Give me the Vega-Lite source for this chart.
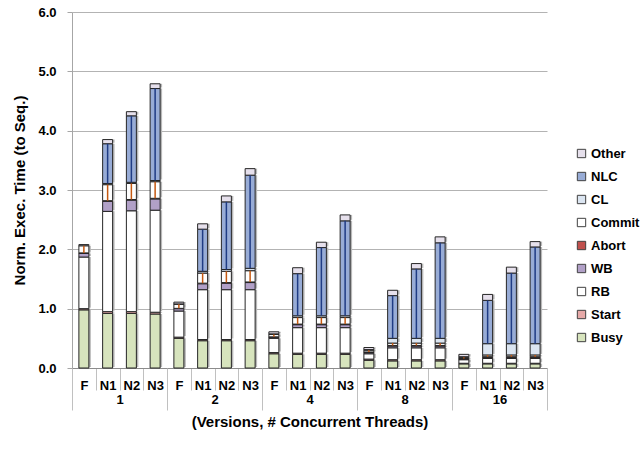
{
  "$schema": "https://vega.github.io/schema/vega-lite/v6.json",
  "width": 475,
  "height": 356,
  "padding": {"left": 12, "top": 6, "right": 0, "bottom": 0},
  "config": {"font": "Liberation Sans", "view": {"stroke": null}},
  "data": {"values": [
    {"threads": "1", "bar": "1 F", "Busy": 0.98, "Start": 0.02, "RB": 0.87, "WB": 0.06, "Abort": 0.01, "Commit": 0.12, "CL": 0, "NLC": 0, "Other": 0.02},
    {"threads": "1", "bar": "1 N1", "Busy": 0.92, "Start": 0.03, "RB": 1.69, "WB": 0.17, "Abort": 0.01, "Commit": 0.27, "CL": 0.02, "NLC": 0.67, "Other": 0.07},
    {"threads": "1", "bar": "1 N2", "Busy": 0.92, "Start": 0.03, "RB": 1.70, "WB": 0.18, "Abort": 0.01, "Commit": 0.27, "CL": 0.02, "NLC": 1.12, "Other": 0.07},
    {"threads": "1", "bar": "1 N3", "Busy": 0.91, "Start": 0.03, "RB": 1.72, "WB": 0.19, "Abort": 0.01, "Commit": 0.28, "CL": 0.02, "NLC": 1.55, "Other": 0.08},
    {"threads": "2", "bar": "2 F", "Busy": 0.50, "Start": 0.02, "RB": 0.44, "WB": 0.04, "Abort": 0.005, "Commit": 0.07, "CL": 0.005, "NLC": 0, "Other": 0.03},
    {"threads": "2", "bar": "2 N1", "Busy": 0.46, "Start": 0.02, "RB": 0.84, "WB": 0.10, "Abort": 0.01, "Commit": 0.17, "CL": 0.03, "NLC": 0.71, "Other": 0.09},
    {"threads": "2", "bar": "2 N2", "Busy": 0.46, "Start": 0.02, "RB": 0.84, "WB": 0.11, "Abort": 0.01, "Commit": 0.19, "CL": 0.03, "NLC": 1.14, "Other": 0.10},
    {"threads": "2", "bar": "2 N3", "Busy": 0.46, "Start": 0.02, "RB": 0.84, "WB": 0.12, "Abort": 0.01, "Commit": 0.19, "CL": 0.04, "NLC": 1.57, "Other": 0.11},
    {"threads": "4", "bar": "4 F", "Busy": 0.24, "Start": 0.02, "RB": 0.24, "WB": 0.02, "Abort": 0.005, "Commit": 0.04, "CL": 0.01, "NLC": 0, "Other": 0.035},
    {"threads": "4", "bar": "4 N1", "Busy": 0.23, "Start": 0.02, "RB": 0.43, "WB": 0.05, "Abort": 0.01, "Commit": 0.11, "CL": 0.03, "NLC": 0.71, "Other": 0.10},
    {"threads": "4", "bar": "4 N2", "Busy": 0.23, "Start": 0.02, "RB": 0.43, "WB": 0.05, "Abort": 0.01, "Commit": 0.11, "CL": 0.03, "NLC": 1.15, "Other": 0.09},
    {"threads": "4", "bar": "4 N3", "Busy": 0.23, "Start": 0.02, "RB": 0.43, "WB": 0.05, "Abort": 0.01, "Commit": 0.11, "CL": 0.03, "NLC": 1.60, "Other": 0.10},
    {"threads": "8", "bar": "8 F", "Busy": 0.13, "Start": 0.02, "RB": 0.09, "WB": 0.02, "Abort": 0.01, "Commit": 0.03, "CL": 0.01, "NLC": 0, "Other": 0.035},
    {"threads": "8", "bar": "8 N1", "Busy": 0.12, "Start": 0.02, "RB": 0.20, "WB": 0.03, "Abort": 0.01, "Commit": 0.04, "CL": 0.08, "NLC": 0.72, "Other": 0.09},
    {"threads": "8", "bar": "8 N2", "Busy": 0.12, "Start": 0.02, "RB": 0.20, "WB": 0.03, "Abort": 0.01, "Commit": 0.04, "CL": 0.08, "NLC": 1.17, "Other": 0.09},
    {"threads": "8", "bar": "8 N3", "Busy": 0.12, "Start": 0.02, "RB": 0.20, "WB": 0.03, "Abort": 0.01, "Commit": 0.04, "CL": 0.08, "NLC": 1.61, "Other": 0.10},
    {"threads": "16", "bar": "16 F", "Busy": 0.07, "Start": 0.01, "RB": 0.06, "WB": 0.01, "Abort": 0.01, "Commit": 0.02, "CL": 0.01, "NLC": 0, "Other": 0.04},
    {"threads": "16", "bar": "16 N1", "Busy": 0.07, "Start": 0.01, "RB": 0.08, "WB": 0.02, "Abort": 0.01, "Commit": 0.03, "CL": 0.19, "NLC": 0.73, "Other": 0.10},
    {"threads": "16", "bar": "16 N2", "Busy": 0.07, "Start": 0.01, "RB": 0.08, "WB": 0.02, "Abort": 0.01, "Commit": 0.03, "CL": 0.19, "NLC": 1.19, "Other": 0.10},
    {"threads": "16", "bar": "16 N3", "Busy": 0.07, "Start": 0.01, "RB": 0.08, "WB": 0.02, "Abort": 0.01, "Commit": 0.03, "CL": 0.19, "NLC": 1.63, "Other": 0.09}
  ]},
  "transform": [
    {"fold": ["Busy", "Start", "RB", "WB", "Abort", "Commit", "CL", "NLC", "Other"], "as": ["component", "value"]},
    {"stack": "value", "groupby": ["bar"], "as": ["v0", "v1"]}
  ],
  "layer": [
    {
      "layer": [
        {
          "mark": {"type": "bar", "color": "#b8b8b8", "strokeWidth": 0, "xOffset": 2, "yOffset": -1, "width": {"band": 0.42}},
          "transform": [{"filter": "datum.value > 0"}],
          "encoding": {
            "x": {
              "field": "bar", "type": "nominal", "sort": null,
              "scale": {"paddingInner": 0, "paddingOuter": 0},
              "axis": {
                "orient": "bottom", "title": null,
                "labelExpr": "split(datum.label, ' ')[1]",
                "labelAngle": 0, "labelFontSize": 13, "labelFontWeight": "bold", "labelColor": "#000000",
                "labelBaseline": "top",
                "tickBand": "extent", "tickSize": 22, "tickColor": "#c0c0c0", "labelPadding": -11,
                "domainColor": "#8c8c8c", "grid": false
              }
            },
            "y": {
              "field": "v0", "type": "quantitative",
              "scale": {"domain": [0, 6], "nice": false},
              "axis": {
                "title": "Norm. Exec. Time (to Seq.)", "titleFontSize": 15, "titleFontWeight": "bold", "titleColor": "#000000",
                "titlePadding": 10,
                "values": [0, 1, 2, 3, 4, 5, 6], "format": ".1f",
                "labelFontSize": 13, "labelFontWeight": "bold", "labelColor": "#000000", "labelPadding": 11,
                "tickSize": 5, "tickColor": "#a6a6a6", "domainColor": "#a6a6a6",
                "grid": true, "gridColor": "#b3b3b3"
              }
            },
            "y2": {"field": "v1"}
          }
        },
        {
          "mark": {"type": "bar", "stroke": "#262626", "strokeWidth": 1, "width": {"band": 0.42}},
          "transform": [{"filter": "datum.value > 0"}],
          "encoding": {
            "x": {"field": "bar", "type": "nominal", "sort": null},
            "y": {"field": "v0", "type": "quantitative"},
            "y2": {"field": "v1"},
            "color": {
              "field": "component", "type": "nominal",
              "scale": {
                "domain": ["Other", "NLC", "CL", "Commit", "Abort", "WB", "RB", "Start", "Busy"],
                "range": ["#e6e0ec", "#98acd6", "#dbe5f1", "#ffffff", "#c0504d", "#b1a0c7", "#ffffff", "#e6a9a8", "#d7e4bd"]
              },
              "legend": {
                "orient": "none", "legendX": 503, "legendY": 135, "title": null,
                "symbolType": "square", "symbolSize": 70, "symbolStrokeColor": "#404040", "symbolStrokeWidth": 1,
                "labelFontSize": 13, "labelFontWeight": "bold", "labelColor": "#000000", "rowPadding": 9, "labelOffset": 3
              }
            }
          }
        },
        {
          "mark": {"type": "rule", "strokeWidth": 1.5},
          "transform": [{"filter": "(datum.component === 'NLC' || datum.component === 'Commit') && datum.value > 0"}],
          "encoding": {
            "x": {"field": "bar", "type": "nominal", "sort": null},
            "y": {"field": "v0", "type": "quantitative"},
            "y2": {"field": "v1"},
            "stroke": {"condition": {"test": "datum.component === 'NLC'", "value": "#1f3b84"}, "value": "#c65911"}
          }
        }
      ]
    },
    {
      "mark": {"type": "tick", "opacity": 0},
      "encoding": {
        "x": {
          "field": "threads", "type": "nominal", "sort": null,
          "scale": {"paddingInner": 0, "paddingOuter": 0},
          "axis": {
            "orient": "bottom", "title": "(Versions, # Concurrent Threads)",
            "titleFontSize": 15, "titleFontWeight": "bold", "titleColor": "#000000", "titlePadding": 4,
            "labelAngle": 0, "labelFontSize": 13, "labelFontWeight": "bold", "labelColor": "#000000",
            "labelBaseline": "top",
            "tickBand": "extent", "tickSize": 42, "tickColor": "#c0c0c0", "labelPadding": -17,
            "domain": false, "grid": false
          }
        }
      }
    }
  ],
  "resolve": {"scale": {"x": "independent"}}
}
